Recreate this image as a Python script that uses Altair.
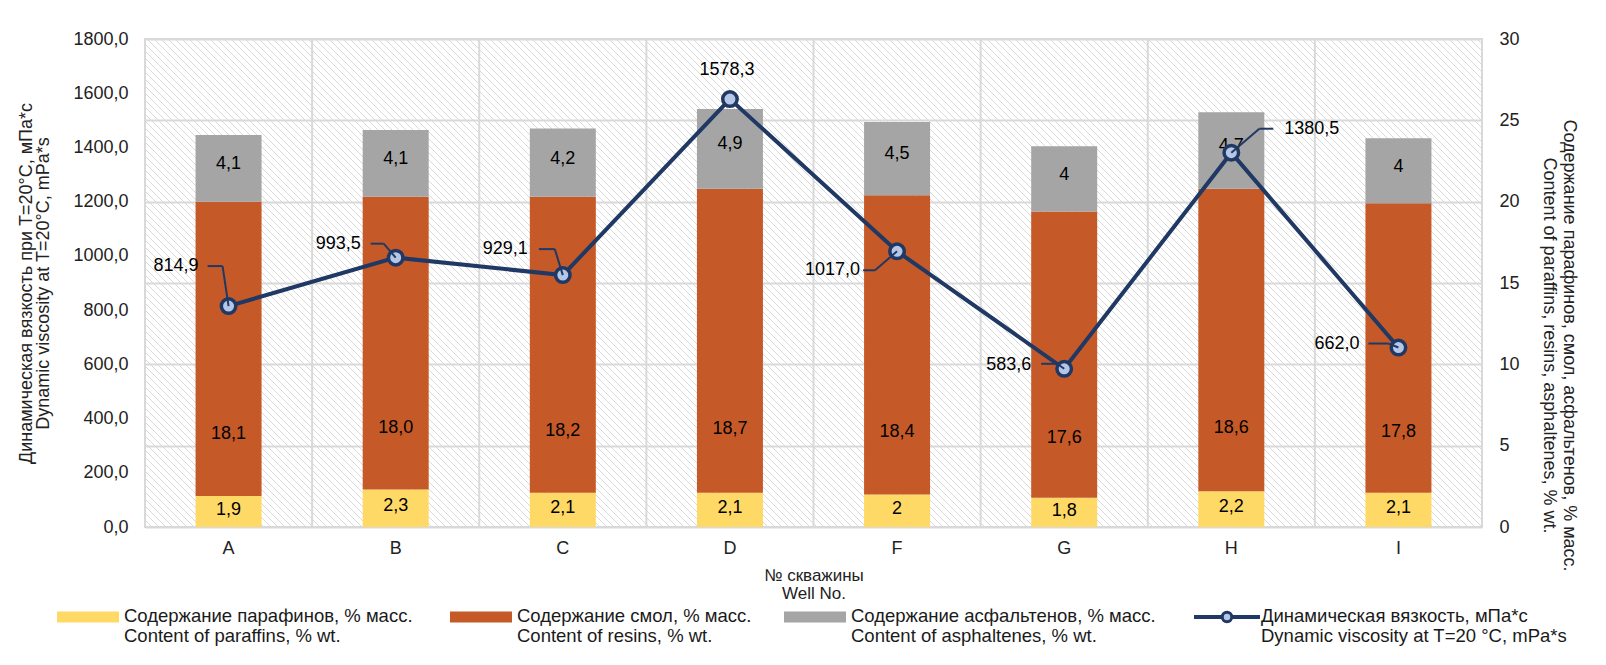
import altair as alt
import pandas as pd

# ---------------- data ----------------
wells = ["A", "B", "C", "D", "F", "G", "H", "I"]
paraffins = [1.9, 2.3, 2.1, 2.1, 2.0, 1.8, 2.2, 2.1]
resins = [18.1, 18.0, 18.2, 18.7, 18.4, 17.6, 18.6, 17.8]
asphaltenes = [4.1, 4.1, 4.2, 4.9, 4.5, 4.0, 4.7, 4.0]
viscosity = [814.9, 993.5, 929.1, 1578.3, 1017.0, 583.6, 1380.5, 662.0]

paraffin_labels = ["1,9", "2,3", "2,1", "2,1", "2", "1,8", "2,2", "2,1"]
resin_labels = ["18,1", "18,0", "18,2", "18,7", "18,4", "17,6", "18,6", "17,8"]
asphaltene_labels = ["4,1", "4,1", "4,2", "4,9", "4,5", "4", "4,7", "4"]
viscosity_labels = ["814,9", "993,5", "929,1", "1578,3", "1017,0", "583,6", "1380,5", "662,0"]

series_names = [
    "Содержание парафинов, % масс.\nContent of paraffins, % wt.",
    "Содержание смол, % масс.\nContent of resins, % wt.",
    "Содержание асфальтенов, % масс.\nContent of asphaltenes, % wt.",
    "Динамическая вязкость, мПа*с\nDynamic viscosity at T=20 °C, mPa*s",
]
left_title = ["Динамическая вязкость при T=20°C, мПа*с", "Dynamic viscosity at T=20°C, mPa*s"]
right_title = ["Содержание парафинов, смол, асфальтенов, % масс.",
               "Content of paraffins, resins, asphaltenes, % wt."]
x_title = ["№ скважины", "Well No."]
left_ticks = [0, 200, 400, 600, 800, 1000, 1200, 1400, 1600, 1800]
right_ticks = [0, 5, 10, 15, 20, 25, 30]

# ---------------- styles ----------------
W, H = 1337, 488
FONT = "Liberation Sans"
NAVY = "#203864"
LIGHT = "#B4C7E7"
GRID = "#d9d9d9"
bar_colors = ["#FFD966", "#C55A28", "#A5A5A5"]
label_frac = {0: 0.55, 1: 0.21, 2: 0.56}

rows = []
for i, w in enumerate(wells):
    for k, (vals, labs) in enumerate(zip([paraffins, resins, asphaltenes],
                                         [paraffin_labels, resin_labels, asphaltene_labels])):
        rows.append(dict(well=w, comp=series_names[k], order=k, value=vals[i], label=labs[i]))
bars_df = pd.DataFrame(rows)
line_df = pd.DataFrame({"well": wells, "visc": viscosity, "label": viscosity_labels})
grid_df = pd.DataFrame({"well": wells})
leg_df = pd.DataFrame({"idx": [0, 1, 2, 3], "name": series_names})

xs = alt.Scale(domain=wells, paddingInner=0, paddingOuter=0)
ys_r = alt.Scale(domain=[0, 30], nice=False, zero=True)
ys_l = alt.Scale(domain=[0, 1800], nice=False, zero=True)

x_axis = alt.Axis(orient="bottom", labelAngle=0, domain=False, ticks=False, grid=False,
                  labelPadding=12, labelFontSize=18, title=x_title, titlePadding=10,
                  titleFontSize=17, titleLineHeight=18)
right_axis = alt.Axis(orient="right", values=right_ticks, format="d", grid=True,
                      gridColor=GRID, gridWidth=2, domain=False, ticks=False,
                      labelPadding=17, labelFontSize=18, title=right_title,
                      titlePadding=20, titleFontSize=18, titleLineHeight=20, titleY=306)
left_axis = alt.Axis(orient="left", values=left_ticks,
                     labelExpr="replace(format(datum.value, '.1f'), '.', ',')",
                     grid=False, domain=False, ticks=False, labelPadding=17,
                     labelFontSize=18, title=left_title, titlePadding=20,
                     titleFontSize=18, titleLineHeight=17)


def X(bp=None):
    if bp is None:
        return alt.X("well:N", scale=xs, sort=wells, axis=x_axis)
    return alt.X("well:N", scale=xs, sort=wells, axis=x_axis, bandPosition=bp)


def YR(field):
    return alt.Y(field, scale=ys_r, axis=right_axis)


def YL(field):
    return alt.Y(field, scale=ys_l, axis=left_axis)


# hatch background (decorative pattern)
hatch = alt.Chart(alt.sequence(-H, W + 7, 7, as_="k")).transform_calculate(
    k2="datum.k + %d" % H
).mark_rule(color="#d9d9d9", strokeWidth=1, clip=True).encode(
    x=alt.X("k:Q", scale=None), x2=alt.X2("k2"), y=alt.value(0), y2=alt.value(H)
)

vgrid = alt.Chart(grid_df).mark_rule(color=GRID, strokeWidth=2).encode(
    x=X(bp=0), y=alt.value(0), y2=alt.value(H)
)

bars = alt.Chart(bars_df).mark_bar(width=66).encode(
    x=X(),
    y=alt.Y("value:Q", stack="zero", scale=ys_r, axis=right_axis),
    color=alt.Color("comp:N", scale=alt.Scale(domain=series_names[:3], range=bar_colors), legend=None),
    order=alt.Order("order:Q"),
)

bar_labels = alt.Chart(bars_df).transform_stack(
    stack="value", groupby=["well"], as_=["v0", "v1"],
    sort=[alt.SortField("order", order="ascending")]
).transform_calculate(
    ly="datum.v0 + (datum.order == 0 ? %s : datum.order == 1 ? %s : %s) * (datum.v1 - datum.v0)"
       % (label_frac[0], label_frac[1], label_frac[2])
).mark_text(fontSize=18, color="#000000", font=FONT, baseline="middle").encode(
    x=X(), y=YR("ly:Q"), text="label:N"
)

bar_group = alt.layer(hatch, vgrid, bars, bar_labels)

line = alt.Chart(line_df).mark_line(color=NAVY, strokeWidth=4).encode(
    x=X(), y=YL("visc:Q")
)
points = alt.Chart(line_df).mark_point(shape="circle", filled=True, fill=LIGHT, stroke=NAVY,
                                       strokeWidth=3.5, size=210, opacity=1).encode(
    x=X(), y=YL("visc:Q")
)

# label placement (pixel offsets from each point) and leader segments
label_style = {
    "A": dict(align="right", dx=-30, dy=-40, lead=[(-21, -40, -6, -40), (-6, -40, 0, 0)]),
    "B": dict(align="right", dx=-35, dy=-14, lead=[(-25, -14, -12, -14), (-12, -14, 0, 0)]),
    "C": dict(align="right", dx=-35, dy=-26, lead=[(-24, -26, -8, -26), (-8, -26, 0, 0)]),
    "D": dict(align="center", dx=-3, dy=-29, lead=[]),
    "F": dict(align="right", dx=-37, dy=19, lead=[(-34, 19, -22, 19), (-22, 19, 0, 0)]),
    "G": dict(align="right", dx=-33, dy=-4, lead=[(-23, -5, -7, -5), (-7, -5, 0, 0)]),
    "H": dict(align="left", dx=53, dy=-24, lead=[(0, 0, 28, -24), (28, -24, 42, -24)]),
    "I": dict(align="right", dx=-39, dy=-4, lead=[(-30, -4, -10, -4), (-10, -4, 0, 0)]),
}

leaders = []
texts = []
for w in wells:
    s = label_style[w]
    base = alt.Chart(line_df).transform_filter(alt.datum.well == w)
    for (x1, y1, x2, y2) in s["lead"]:
        leaders.append(base.mark_rule(color=NAVY, strokeWidth=2, xOffset=x1, yOffset=y1,
                                      x2Offset=x2, y2Offset=y2).encode(
            x=X(bp=0.5), x2=alt.X2("well", bandPosition=0.5),
            y=YL("visc:Q"), y2=alt.Y2("visc")
        ))
    texts.append(base.mark_text(align=s["align"], baseline="middle", dx=s["dx"], dy=s["dy"],
                                fontSize=18, font=FONT, color="#000000").encode(
        x=X(), y=YL("visc:Q"), text="label:N"
    ))

line_group = alt.layer(line, points, *leaders, *texts)

main = alt.layer(bar_group, line_group).resolve_scale(y="independent").properties(
    width=W, height=H
)

# ---------------- legend panel ----------------
lx = alt.Scale(domain=[0, 1, 2, 3], range=[-88, 305, 639, 1049], nice=False, zero=False)
LX = alt.X("idx:Q", scale=lx, axis=None)
leg_sym = alt.Chart(leg_df).transform_filter("datum.idx < 3").mark_rule(
    strokeWidth=11, x2Offset=62).encode(
    x=LX, x2=alt.X2("idx"), y=alt.value(10),
    color=alt.Color("name:N", scale=alt.Scale(domain=series_names[:3], range=bar_colors), legend=None)
)
leg_line = alt.Chart(leg_df).transform_filter("datum.idx == 3").mark_rule(
    strokeWidth=4, color=NAVY, x2Offset=66).encode(x=LX, x2=alt.X2("idx"), y=alt.value(10))
leg_pt = alt.Chart(leg_df).transform_filter("datum.idx == 3").mark_point(
    shape="circle", filled=True, fill=LIGHT, stroke=NAVY, strokeWidth=3, size=90, opacity=1,
    xOffset=33).encode(x=LX, y=alt.value(10))
leg_txt1 = alt.Chart(leg_df).transform_filter("datum.idx < 3").mark_text(
    align="left", baseline="top", dx=67, dy=-10, lineBreak="\n", lineHeight=20,
    fontSize=18.5, font=FONT, color="#1a1a1a").encode(x=LX, y=alt.value(10), text="name:N")
leg_txt2 = alt.Chart(leg_df).transform_filter("datum.idx == 3").mark_text(
    align="left", baseline="top", dx=67, dy=-10, lineBreak="\n", lineHeight=20,
    fontSize=18.5, font=FONT, color="#1a1a1a").encode(x=LX, y=alt.value(10), text="name:N")

legend = alt.layer(leg_sym, leg_line, leg_pt, leg_txt1, leg_txt2).properties(
    width=W, height=45, view=alt.ViewBackground(stroke=None)
)

chart = alt.vconcat(main, legend, spacing=80, bounds="flush").properties(
    padding={"left": 8, "top": 21, "right": 10, "bottom": 5},
    background="white",
).configure_view(stroke=GRID, strokeWidth=2).configure_axis(
    labelFont=FONT, titleFont=FONT, labelColor="#222222", titleColor="#222222",
    titleFontWeight="normal"
).configure_text(font=FONT)

chart.save("out.html", embed_options={"renderer": "svg", "actions": False})
